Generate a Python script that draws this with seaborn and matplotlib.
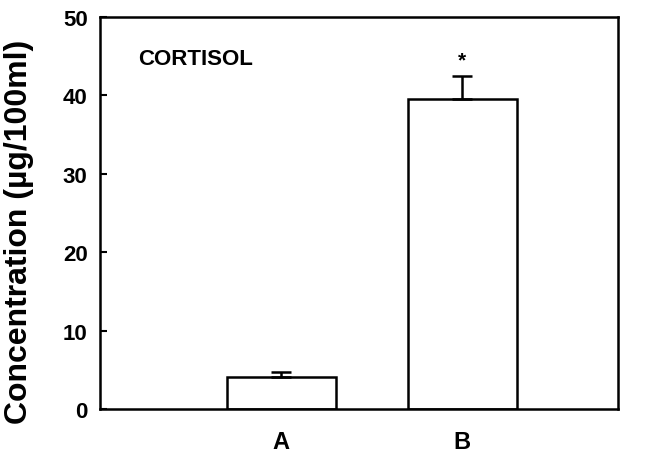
import matplotlib
matplotlib.use("Agg")
import matplotlib.pyplot as plt
import seaborn as sns
import pandas as pd

# Data
groups = ["A", "B"]
means = [4.1, 39.5]
sem = [0.6, 3.0]
signif = ["", "*"]

df = pd.DataFrame({"group": groups, "conc": means})

sns.set_style("ticks", {"axes.edgecolor": "black", "text.color": "black",
                        "xtick.color": "black", "ytick.color": "black",
                        "axes.labelcolor": "black"})
plt.rcParams["font.family"] = ["Liberation Sans", "DejaVu Sans"]
plt.rcParams["font.weight"] = "bold"

fig, ax = plt.subplots(figsize=(6.5, 4.56), dpi=100)
fig.subplots_adjust(left=0.154, right=0.951, top=0.961, bottom=0.101)

sns.barplot(data=df, x="group", y="conc", color="white", edgecolor="black",
            linewidth=1.8, width=0.6, errorbar=None, ax=ax)

# one-sided (upper) error bars
ax.errorbar(range(len(groups)), means, yerr=[[0] * len(sem), sem], fmt="none",
            ecolor="black", elinewidth=1.8, capsize=7, capthick=1.8)

for i, s in enumerate(signif):
    if s:
        ax.text(i, means[i] + sem[i] + 2.0, s, ha="center", va="center",
                fontsize=15, fontweight="bold")

ax.text(0.073, 0.894, "CORTISOL", transform=ax.transAxes, fontsize=16,
        fontweight="bold", va="center")

ax.set_xlim(-1, 1.86)
ax.set_ylim(0, 50)
ax.set_yticks([0, 10, 20, 30, 40, 50])
ax.set_xticks(range(len(groups)))
ax.set_xticklabels(groups, fontsize=17, fontweight="bold")
ax.tick_params(axis="y", direction="in", length=5, width=1.5, labelsize=16, pad=9)
ax.tick_params(axis="x", length=0, pad=15)
for lbl in ax.get_yticklabels():
    lbl.set_fontweight("bold")
ax.set_xlabel("")
ax.set_ylabel("Concentration (\u00b5g/100ml)", fontsize=23, fontweight="bold")
ax.yaxis.set_label_coords(-0.128, 0.455)

for sp in ax.spines.values():
    sp.set_visible(True)
    sp.set_linewidth(1.8)
    sp.set_color("black")

fig.savefig("out.png", dpi=100)
